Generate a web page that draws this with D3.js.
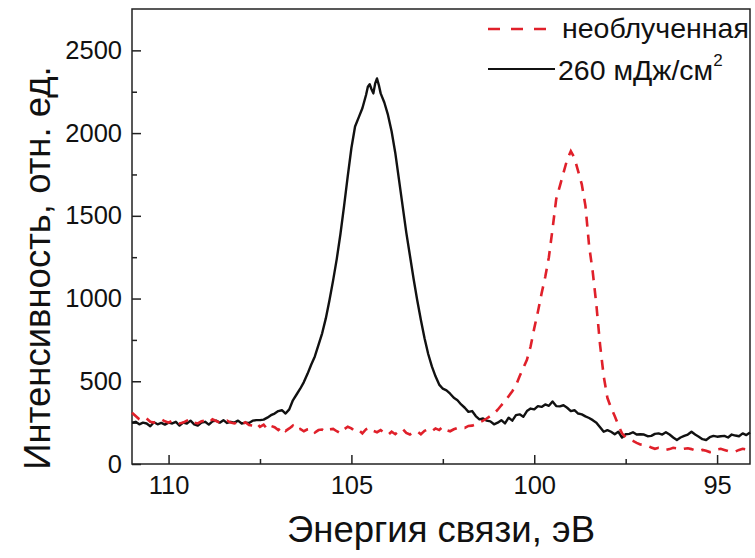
<!DOCTYPE html>
<html>
<head>
<meta charset="utf-8">
<script src="https://cdn.jsdelivr.net/npm/d3@7"></script>
<style>
  html, body { margin: 0; padding: 0; background: #fff; }
  svg { display: block; }
  text { font-family: "Liberation Sans", Arial, sans-serif; fill: #111; }
</style>
</head>
<body>
<svg id="chart" width="755" height="558"></svg>
<script>
// ---------------- data ----------------
const xMajorTicks = [110, 105, 100, 95];
const xMinorTicks = [107.5, 102.5, 97.5];
const yMajorTicks = [0, 500, 1000, 1500, 2000, 2500];
const yMinorTicks = [250, 750, 1250, 1750, 2250];
const xTitle = "Энергия связи, эВ";
const yTitle = "Интенсивность, отн. ед.";
const seriesNames = ["необлученная", "260 мДж/см"];

// [binding energy (eV), intensity] — unirradiated (red dashed)
const redSeries = [
[111.0,310],[110.9,290],[110.8,270],[110.7,262],[110.6,275],[110.5,255],[110.4,250],[110.3,262],[110.2,270],[110.1,258],
[110.0,250],[109.9,262],[109.8,255],[109.7,245],[109.6,250],[109.5,262],[109.4,270],[109.3,250],[109.2,245],[109.1,258],
[109.0,262],[108.9,250],[108.8,270],[108.7,260],[108.6,248],[108.5,255],[108.4,262],[108.3,250],[108.2,245],[108.1,252],
[108.0,240],[107.9,252],[107.8,235],[107.7,232],[107.6,248],[107.5,225],[107.4,238],[107.3,210],[107.2,230],[107.1,222],
[107.0,205],[106.9,225],[106.8,200],[106.7,215],[106.6,232],[106.5,205],[106.4,212],[106.3,198],[106.2,210],[106.1,215],
[106.0,190],[105.9,205],[105.8,208],[105.7,195],[105.6,210],[105.5,212],[105.4,198],[105.3,185],[105.2,210],[105.1,225],
[105.0,215],[104.9,198],[104.8,205],[104.7,185],[104.6,210],[104.5,220],[104.4,200],[104.3,192],[104.2,205],[104.1,188],
[104.0,175],[103.9,195],[103.8,180],[103.7,200],[103.6,212],[103.5,188],[103.4,178],[103.3,192],[103.2,198],[103.1,180],
[103.0,200],[102.9,210],[102.8,198],[102.7,215],[102.6,205],[102.5,225],[102.4,205],[102.3,198],[102.2,210],[102.1,218],
[102.0,222],[101.9,218],[101.8,230],[101.7,232],[101.6,240],[101.5,252],[101.4,262],[101.3,275],[101.2,290],[101.1,305],
[101.0,328],[100.9,355],[100.8,380],[100.7,410],[100.6,440],[100.5,475],[100.4,530],[100.3,580],[100.2,630],[100.1,710],
[100.0,820],[99.9,920],[99.8,1030],[99.7,1130],[99.6,1250],[99.5,1420],[99.4,1600],[99.3,1680],[99.2,1760],[99.1,1840],
[99.0,1890],[98.9,1850],[98.8,1770],[98.7,1690],[98.6,1560],[98.5,1320],[98.4,1160],[98.3,960],[98.2,720],[98.1,530],
[98.0,400],[97.9,340],[97.8,290],[97.7,235],[97.6,185],[97.5,160],[97.4,150],[97.3,140],[97.2,128],[97.1,118],
[97.0,115],[96.9,110],[96.8,100],[96.7,92],[96.6,98],[96.5,95],[96.4,85],[96.3,90],[96.2,98],[96.1,95],
[96.0,88],[95.9,92],[95.8,95],[95.7,90],[95.6,82],[95.5,78],[95.4,85],[95.3,80],[95.2,72],[95.1,75],
[95.0,88],[94.9,92],[94.8,85],[94.7,78],[94.6,80],[94.5,75],[94.4,85],[94.3,92],[94.2,88],[94.1,95]
];

// [binding energy (eV), intensity] — 260 mJ/cm2 (black solid)
const blackSeries = [
[111.0,250],[110.9,255],[110.8,240],[110.7,250],[110.6,245],[110.5,228],[110.4,252],[110.3,240],[110.2,248],[110.1,238],
[110.0,250],[109.9,245],[109.8,255],[109.7,232],[109.6,250],[109.5,245],[109.4,262],[109.3,240],[109.2,232],[109.1,250],
[109.0,255],[108.9,238],[108.8,258],[108.7,262],[108.6,250],[108.5,265],[108.4,248],[108.3,255],[108.2,250],[108.1,262],
[108.0,245],[107.9,250],[107.8,248],[107.7,262],[107.6,265],[107.5,265],[107.4,268],[107.3,280],[107.2,295],[107.1,305],
[107.0,320],[106.9,325],[106.8,305],[106.7,330],[106.6,385],[106.5,420],[106.4,455],[106.3,495],[106.2,545],[106.1,600],
[106.0,650],[105.9,720],[105.8,790],[105.7,880],[105.6,990],[105.5,1110],[105.4,1240],[105.3,1390],[105.2,1560],[105.1,1740],
[105.0,1910],[104.9,2040],[104.8,2095],[104.7,2150],[104.6,2230],[104.55,2280],[104.5,2295],[104.45,2265],[104.4,2240],[104.35,2300],
[104.3,2330],[104.25,2290],[104.2,2240],[104.1,2185],[104.0,2110],[103.9,2010],[103.8,1880],[103.7,1720],[103.6,1560],[103.5,1400],
[103.4,1260],[103.3,1120],[103.2,990],[103.1,870],[103.0,760],[102.9,665],[102.8,590],[102.7,530],[102.6,480],[102.5,455],
[102.4,445],[102.3,425],[102.2,400],[102.1,385],[102.0,360],[101.9,340],[101.8,315],[101.7,320],[101.6,290],[101.5,270],
[101.4,275],[101.3,262],[101.2,258],[101.1,240],[101.0,250],[100.9,265],[100.8,245],[100.7,280],[100.6,262],[100.5,295],
[100.4,300],[100.3,285],[100.2,320],[100.1,335],[100.0,330],[99.9,350],[99.8,345],[99.7,360],[99.6,352],[99.5,378],
[99.4,350],[99.3,348],[99.2,355],[99.1,340],[99.0,320],[98.9,325],[98.8,305],[98.7,300],[98.6,288],[98.5,278],
[98.4,265],[98.3,250],[98.2,222],[98.1,195],[98.0,205],[97.9,195],[97.8,180],[97.7,195],[97.6,160],[97.5,180],
[97.4,182],[97.3,192],[97.2,178],[97.1,180],[97.0,178],[96.9,168],[96.8,170],[96.7,182],[96.6,185],[96.5,178],
[96.4,192],[96.3,178],[96.2,160],[96.1,145],[96.0,160],[95.9,170],[95.8,178],[95.7,195],[95.6,178],[95.5,165],
[95.4,150],[95.3,145],[95.2,162],[95.1,170],[95.0,165],[94.9,168],[94.8,170],[94.7,160],[94.6,178],[94.5,172],
[94.4,168],[94.3,185],[94.2,175],[94.1,190]
];

// ---------------- chart ----------------
const svg = d3.select("#chart");
const frame = { left: 132, right: 750, top: 9, bottom: 464 };

const x = d3.scaleLinear().domain([111, 94.1]).range([frame.left, frame.right]);
const y = d3.scaleLinear().domain([0, 2750]).range([frame.bottom, frame.top]);

const axisColor = "#222";

// x axis
const gx = svg.append("g").attr("transform", `translate(0,${frame.bottom})`);
gx.call(d3.axisBottom(x).tickValues(xMajorTicks).tickFormat(d3.format("d"))
  .tickSize(-9).tickSizeOuter(0).tickPadding(12));
gx.append("g").call(d3.axisBottom(x).tickValues(xMinorTicks).tickFormat("")
  .tickSize(-5).tickSizeOuter(0)).select(".domain").remove();

// y axis
const gy = svg.append("g").attr("transform", `translate(${frame.left},0)`);
gy.call(d3.axisLeft(y).tickValues(yMajorTicks).tickFormat(d3.format("d"))
  .tickSize(-9).tickSizeOuter(0).tickPadding(10));
gy.append("g").call(d3.axisLeft(y).tickValues(yMinorTicks).tickFormat("")
  .tickSize(-5).tickSizeOuter(0)).select(".domain").remove();

svg.selectAll(".tick line").attr("stroke", axisColor).attr("stroke-width", 1.5);
svg.selectAll(".domain").remove();
svg.selectAll(".tick text")
  .attr("font-family", "Liberation Sans, Arial, sans-serif")
  .attr("font-size", 25.5).attr("fill", "#111");

// frame
svg.append("rect")
  .attr("x", frame.left).attr("y", frame.top)
  .attr("width", frame.right - frame.left).attr("height", frame.bottom - frame.top)
  .attr("fill", "none").attr("stroke", axisColor).attr("stroke-width", 1.5);

// lines
const line = d3.line().x(d => x(d[0])).y(d => y(d[1]));
svg.append("path").datum(blackSeries)
  .attr("d", line).attr("fill", "none")
  .attr("stroke", "#111").attr("stroke-width", 2.4).attr("stroke-linejoin", "round");
svg.append("path").datum(redSeries)
  .attr("d", line).attr("fill", "none")
  .attr("stroke", "#e0202a").attr("stroke-width", 2.6)
  .attr("stroke-dasharray", "10,8");

// axis titles
svg.append("text")
  .attr("x", 441).attr("y", 542)
  .attr("text-anchor", "middle").attr("font-size", 36.5)
  .text(xTitle);
svg.append("text")
  .attr("transform", "translate(50,268) rotate(-90)")
  .attr("text-anchor", "middle").attr("font-size", 36.5)
  .text(yTitle);

// legend
const lg = svg.append("g");
lg.append("line").attr("x1", 488).attr("x2", 547).attr("y1", 29).attr("y2", 29)
  .attr("stroke", "#e0202a").attr("stroke-width", 2.6).attr("stroke-dasharray", "12,11");
lg.append("text").attr("x", 562).attr("y", 38).attr("font-size", 28.5).text(seriesNames[0]);
lg.append("line").attr("x1", 488).attr("x2", 555).attr("y1", 69).attr("y2", 69)
  .attr("stroke", "#111").attr("stroke-width", 2.2);
const t2 = lg.append("text").attr("x", 558).attr("y", 80).attr("font-size", 28.5).text(seriesNames[1]);
t2.append("tspan").attr("font-size", 17).attr("dy", -14).text("2");
</script>
</body>
</html>
